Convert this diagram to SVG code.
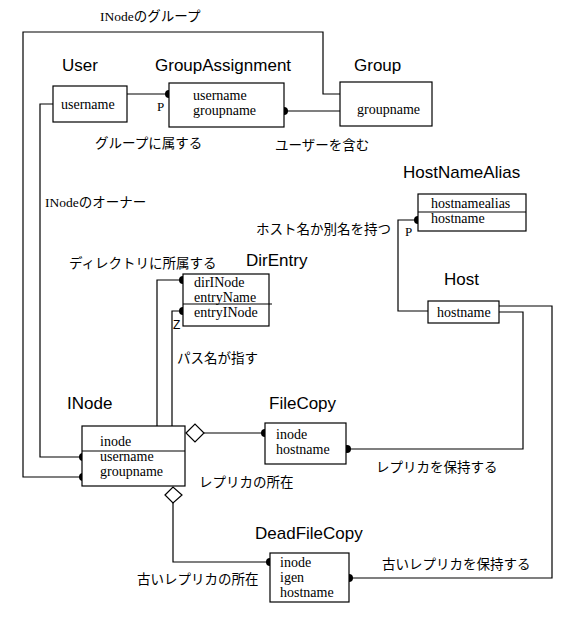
<svg xmlns="http://www.w3.org/2000/svg" width="582" height="618" viewBox="0 0 582 618">
<style>
.bg{fill:#fff}
.box{fill:#fff;stroke:#000;stroke-width:1.2}
.ln{fill:none;stroke:#000;stroke-width:1.2}
.title{font-family:"Liberation Sans",Arial,sans-serif;font-size:17px;fill:#000}
.attr{font-family:"Liberation Serif","Times New Roman",serif;font-size:14px;fill:#000}
.lbl{font-family:"Liberation Serif","Noto Sans CJK JP",serif;font-size:13.5px;fill:#000}
.small{font-family:"Liberation Serif",serif;font-size:13px;fill:#000}
.z{font-family:"Liberation Sans",sans-serif;font-size:12px;fill:#000}
.dot{fill:#000}
.dia{fill:#fff;stroke:#000;stroke-width:1.2}
</style>
<rect class="bg" x="0" y="0" width="582" height="618"/>

<g id="connectors">
  <polyline class="ln" points="83,477 23,477 23,32 323,32 323,94 340,94"/>
  <polyline class="ln" points="83,457 40,457 40,104 53,104"/>
  <line class="ln" x1="127" y1="94" x2="169" y2="94"/>
  <line class="ln" x1="284" y1="111" x2="340" y2="111"/>
  <polyline class="ln" points="418,220 398,220 398,311 428,311"/>
  <polyline class="ln" points="499,312 523,312 523,449 347,449"/>
  <polyline class="ln" points="499,306 552,306 552,578 349,578"/>
  <polyline class="ln" points="183,280 157,280 157,426"/>
  <polyline class="ln" points="183,311 172,311 172,426"/>
  <line class="ln" x1="204" y1="433" x2="265" y2="433"/>
  <polyline class="ln" points="173,503 173,562 270,562"/>

  <circle class="dot" cx="169" cy="94" r="4"/>
  <circle class="dot" cx="284" cy="111" r="4"/>
  <circle class="dot" cx="418" cy="220" r="4"/>
  <circle class="dot" cx="347" cy="449" r="4"/>
  <circle class="dot" cx="349" cy="578" r="4"/>
  <circle class="dot" cx="183" cy="280" r="4"/>
  <circle class="dot" cx="183" cy="311" r="4"/>
  <circle class="dot" cx="83" cy="457" r="4"/>
  <circle class="dot" cx="83" cy="477" r="4"/>
  <circle class="dot" cx="265" cy="433" r="4"/>
  <circle class="dot" cx="270" cy="562" r="4"/>

  <polygon class="dia" points="186,433 195,424 204,433 195,442"/>
  <polygon class="dia" points="165,495 173,487 182,495 173,503"/>

  <text class="lbl" x="100" y="21">INodeのグループ</text>
  <text class="lbl" x="45" y="207">INodeのオーナー</text>
  <text class="lbl" x="95" y="148">グループに属する</text>
  <text class="lbl" x="275" y="150">ユーザーを含む</text>
  <text class="lbl" x="256" y="234">ホスト名か別名を持つ</text>
  <text class="lbl" x="69" y="268">ディレクトリに所属する</text>
  <text class="lbl" x="177" y="363">パス名が指す</text>
  <text class="lbl" x="199" y="487">レプリカの所在</text>
  <text class="lbl" x="376" y="472">レプリカを保持する</text>
  <text class="lbl" x="137" y="584">古いレプリカの所在</text>
  <text class="lbl" x="382" y="569">古いレプリカを保持する</text>
  <text class="small" x="157" y="111">P</text>
  <text class="small" x="405" y="236">P</text>
  <text class="z" x="173" y="329">Z</text>
</g>

<g id="User">
  <text class="title" x="62" y="71">User</text>
  <rect class="box" x="53" y="86" width="74" height="36"/>
  <text class="attr" x="61" y="109">username</text>
</g>

<g id="GroupAssignment">
  <text class="title" x="155" y="71">GroupAssignment</text>
  <rect class="box" x="169" y="83" width="115" height="44"/>
  <text class="attr" x="193" y="100">username</text>
  <text class="attr" x="193" y="115">groupname</text>
</g>

<g id="Group">
  <text class="title" x="354" y="71">Group</text>
  <rect class="box" x="340" y="82" width="92" height="44"/>
  <text class="attr" x="357" y="114">groupname</text>
</g>

<g id="HostNameAlias">
  <text class="title" x="403" y="178">HostNameAlias</text>
  <rect class="box" x="418" y="194" width="108" height="37"/>
  <line class="ln" x1="418" y1="212" x2="526" y2="212"/>
  <text class="attr" x="431" y="208">hostnamealias</text>
  <text class="attr" x="431" y="223">hostname</text>
</g>

<g id="Host">
  <text class="title" x="444" y="285">Host</text>
  <rect class="box" x="428" y="301" width="71" height="22"/>
  <text class="attr" x="437" y="317">hostname</text>
</g>

<g id="DirEntry">
  <text class="title" x="246" y="266">DirEntry</text>
  <rect class="box" x="183" y="274" width="86" height="52"/>
  <line class="ln" x1="183" y1="304" x2="272" y2="304"/>
  <text class="attr" x="194" y="287">dirINode</text>
  <text class="attr" x="194" y="302">entryName</text>
  <text class="attr" x="194" y="317">entryINode</text>
</g>

<g id="INode">
  <text class="title" x="67" y="409">INode</text>
  <rect class="box" x="82" y="426" width="103" height="60"/>
  <line class="ln" x1="82" y1="451" x2="185" y2="451"/>
  <text class="attr" x="100" y="446">inode</text>
  <text class="attr" x="100" y="461">username</text>
  <text class="attr" x="100" y="476">groupname</text>
</g>

<g id="FileCopy">
  <text class="title" x="269" y="409">FileCopy</text>
  <rect class="box" x="265" y="423" width="81" height="41"/>
  <text class="attr" x="276" y="439">inode</text>
  <text class="attr" x="276" y="454">hostname</text>
</g>

<g id="DeadFileCopy">
  <text class="title" x="255" y="539">DeadFileCopy</text>
  <rect class="box" x="270" y="553" width="79" height="49"/>
  <text class="attr" x="280" y="567">inode</text>
  <text class="attr" x="280" y="582">igen</text>
  <text class="attr" x="280" y="597">hostname</text>
</g>
</svg>
